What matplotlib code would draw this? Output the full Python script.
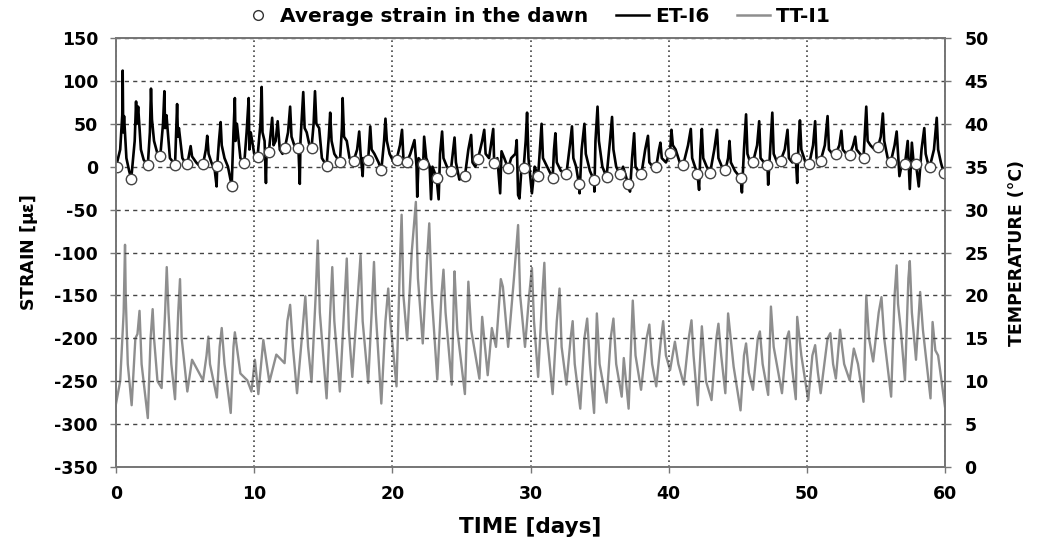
import matplotlib
matplotlib.use("Agg")
import matplotlib.pyplot as plt
from matplotlib.lines import Line2D

plt.rcParams['font.family'] = ['DejaVu Sans']
plt.rcParams['font.weight'] = 'bold'
plt.rcParams['axes.unicode_minus'] = False

# average strain at dawn (markers)
dawn_days = [0.05, 1.1, 2.3, 3.2, 4.27, 5.16, 6.3, 7.3, 8.37, 9.28,
             10.24, 11.06, 12.22, 13.2, 14.15, 15.24, 16.2, 17.2, 18.25, 19.2,
             20.3, 21.07, 22.23, 23.2, 24.23, 25.25, 26.2, 27.37, 28.38, 29.5,
             30.55, 31.6, 32.6, 33.5, 34.6, 35.5, 36.46, 37.06, 38.03, 39.1,
             40.1, 41.05, 42.08, 43.0, 44.1, 45.2, 46.1, 47.15, 48.1, 49.2,
             50.17, 51.0, 52.1, 53.1, 54.1, 55.15, 56.07, 57.1, 57.9, 58.9, 59.9]
dawn_strain = [0, -14, 2, 12, 2, 3, 3, 1, -22, 4,
               11, 17, 22, 22, 22, 1, 5, 7, 8, -4,
               8, 6, 3, -13, -5, -11, 9, 4, -2, -2,
               -11, -13, -8, -20, -16, -12, -9, -20, -8, 0,
               16, 2, -8, -7, -4, -13, 5, 2, 7, 10,
               3, 7, 15, 14, 10, 23, 5, 3, 3, 0, -7]

# ET-I6 strain (peaks, shoulders and dips)
et_days = [0.0, 0.3, 0.45, 0.48, 0.52, 0.58, 0.75, 0.95, 1.1, 1.35, 1.45, 1.5, 1.6, 1.8, 2.0,
           2.3, 2.45, 2.53, 2.6, 2.75, 3.0, 3.2, 3.4, 3.5, 3.55, 3.65, 3.9, 4.15,
           4.27, 4.35, 4.42, 4.48, 4.55, 4.8, 5.0, 5.16, 5.3, 5.4, 5.5, 5.8, 6.1,
           6.3, 6.5, 6.6, 6.7, 6.9, 7.15, 7.28, 7.32, 7.45, 7.57, 7.65, 7.85, 8.1,
           8.37, 8.5, 8.6, 8.65, 8.75, 9.0, 9.28, 9.45, 9.6, 9.65, 9.75, 10.0,
           10.24, 10.45, 10.54, 10.6, 10.75, 10.85, 10.9, 11.06, 11.2, 11.3, 11.4, 11.55, 11.7, 11.85, 12.05,
           12.22, 12.45, 12.6, 12.7, 12.9, 13.2, 13.3, 13.35, 13.55, 13.65, 13.8, 14.0,
           14.15, 14.3, 14.4, 14.5, 14.7, 14.9, 15.24, 15.4, 15.5, 15.6, 15.8,
           16.2, 16.35, 16.4, 16.5, 16.7, 16.9, 17.2, 17.45, 17.6, 17.7, 17.85, 17.9,
           18.25, 18.35, 18.4, 18.5, 18.7, 19.0, 19.2, 19.4, 19.5, 19.6, 19.8, 20.1,
           20.3, 20.55, 20.7, 20.8, 20.95, 21.07, 21.3, 21.6, 21.75, 21.8, 21.9,
           22.23, 22.3, 22.45, 22.7, 22.8, 22.9, 23.2, 23.35, 23.45, 23.6, 23.7, 23.95,
           24.23, 24.4, 24.5, 24.6, 24.85, 25.25, 25.5, 25.7, 25.8, 26.0,
           26.2, 26.5, 26.65, 26.75, 27.0, 27.3, 27.37, 27.6, 27.8, 27.9, 28.1,
           28.38, 28.6, 28.9, 29.0, 29.1, 29.2, 29.35, 29.5, 29.65, 29.75, 29.85, 30.1, 30.3,
           30.55, 30.7, 30.8, 30.9, 31.2, 31.6, 31.7, 31.8, 31.9, 32.2,
           32.6, 32.85, 33.0, 33.1, 33.3, 33.5, 33.55, 33.7, 33.9, 34.0, 34.3,
           34.6, 34.62, 34.7, 34.85, 34.95, 35.2, 35.5, 35.75, 35.9, 36.0, 36.2,
           36.46, 36.7, 37.06, 37.2, 37.35, 37.5, 37.6, 37.8, 38.03, 38.3, 38.5, 38.6, 38.85,
           39.1, 39.3, 39.4, 39.5, 39.8, 40.1, 40.2, 40.3, 40.5, 40.8,
           41.05, 41.4, 41.6, 41.7, 41.9, 42.08, 42.2, 42.3, 42.4, 42.5, 42.75,
           43.0, 43.3, 43.5, 43.6, 43.85, 44.1, 44.3, 44.4, 44.5, 44.8,
           45.2, 45.3, 45.45, 45.6, 45.7, 45.9, 46.1, 46.4, 46.55, 46.65, 46.9,
           47.15, 47.2, 47.35, 47.5, 47.6, 47.85, 48.1, 48.4, 48.6, 48.7, 48.95,
           49.2, 49.3, 49.4, 49.5, 49.6, 49.9, 50.17, 50.45, 50.6, 50.7, 50.85,
           51.0, 51.3, 51.5, 51.6, 51.85, 52.1, 52.35, 52.5, 52.6, 52.85,
           53.1, 53.35, 53.5, 53.6, 53.85, 54.1, 54.2, 54.3, 54.4, 54.6, 54.9,
           55.15, 55.35, 55.5, 55.6, 55.85, 56.07, 56.35, 56.5, 56.6, 56.7, 56.9,
           57.1, 57.3, 57.45, 57.6, 57.75, 57.9, 58.1, 58.3, 58.5, 58.6, 58.75,
           58.9, 59.2, 59.4, 59.5, 59.7, 59.9]
et_strain = [0, 20, 60, 112, 40, 59, 10, -5, -14, 30, 76, 50, 70, 20, 8,
             2, 40, 91, 55, 30, 15, 12, 50, 88, 45, 60, 10, 5,
             2, 40, 73, 35, 45, 10, 5, 3, 15, 24, 12, 5, 0,
             3, 20, 36, 15, 5, -5, -23, 1, 30, 52, 25, 10, 0,
             -22, 40, 80, 30, 50, 10, 4, 40, 80, 20, 40, 15,
             11, 50, 93, 40, 30, -19, 20, 17, 40, 57, 25, 30, 53, 20, 15,
             22, 40, 70, 35, 25, 22, -20, 30, 87, 45, 40, 25,
             22, 50, 88, 50, 45, 10, 1, 35, 63, 30, 15,
             5, 45, 80, 35, 30, 10, 7, 20, 41, 15, -11, 10,
             8, 35, 47, 20, 15, 5, -4, 30, 56, 30, 15, 5,
             8, 25, 43, 10, 0, 6, 15, 31, 0, -35, 10,
             3, 35, 10, 0, -38, 0, -13, -38, 15, 41, 10, 0,
             -5, 20, 34, 5, -15, -11, 20, 37, 5, 0,
             9, 30, 43, 15, 10, 44, 4, 10, -31, 18, 10,
             -2, 10, 15, 31, -33, -37, 0, -2, 30, 63, 10, -31, 0,
             -11, 25, 50, 10, 0, -13, 20, 39, 5, -5,
             -8, 25, 47, 10, 0, -20, -31, 20, 50, 15, -5,
             -16, -29, 30, 70, 30, 0, -12, 30, 58, 20, 0,
             -9, 0, -20, -29, 10, 39, 0, -5, -8, 20, 36, 5, 0,
             0, 20, 28, 10, 5, 16, 43, 25, 20, 5,
             2, 25, 44, 10, 0, -8, -27, 20, 44, 10, 0,
             -7, 20, 43, 10, 0, -4, 10, 30, 5, -5,
             -13, -30, 20, 61, 15, 5, 5, 25, 53, 10, 5,
             2, -21, 20, 63, 15, 5, 7, 20, 43, 10, 5,
             10, -19, 30, 54, 20, 5, 3, 25, 53, 10, 5,
             7, 25, 59, 20, 15, 15, 25, 42, 20, 15,
             14, 25, 35, 20, 15, 10, 40, 70, 30, 25, 20,
             23, 35, 62, 30, 10, 5, 25, 41, 15, -11, 5,
             3, 30, -26, 28, 0, 3, -23, 20, 45, 15, 5,
             0, 20, 57, 20, 5, -7]

# TT-I1 temperature (daily maxima / minima)
tt_days = [0.0, 0.3, 0.55, 0.65, 0.7, 0.85, 1.13, 1.4, 1.55, 1.7, 1.85, 2.3, 2.5, 2.65, 2.75,
           3.0, 3.3, 3.55, 3.67, 3.8, 4.0, 4.27, 4.5, 4.63, 4.75, 5.16, 5.5, 6.3, 6.55, 6.68, 6.8,
           7.3, 7.5, 7.65, 7.85, 8.3, 8.5, 8.6, 9.0, 9.5, 9.8, 10.05, 10.3, 10.66, 11.1, 11.6,
           12.2, 12.4, 12.6, 12.8, 13.1, 13.5, 13.7, 13.9, 14.15, 14.45, 14.6, 14.75,
           15.24, 15.5, 15.65, 15.8, 16.2, 16.5, 16.7, 16.85, 17.1, 17.5, 17.7, 17.85,
           18.25, 18.5, 18.67, 18.8, 19.2, 19.5, 19.7, 19.85, 20.3, 20.55, 20.67, 20.8,
           21.07, 21.4, 21.7, 21.85, 22.2, 22.5, 22.67, 22.85, 23.25, 23.55, 23.7, 23.85,
           24.3, 24.45, 24.5, 24.7, 25.25, 25.45, 25.5, 25.7, 26.3, 26.5, 26.9, 27.2, 27.5,
           27.85, 28.0, 28.38, 28.8, 29.1, 29.25, 29.6, 29.9, 30.1, 30.25, 30.55, 30.85, 31.0, 31.15,
           31.6, 31.9, 32.1, 32.25, 32.6, 32.9, 33.05, 33.2, 33.6, 33.9, 34.1, 34.3,
           34.6, 34.8, 35.0, 35.5, 35.8, 36.0, 36.2, 36.6, 36.75, 37.1, 37.3, 37.4, 37.6,
           38.0, 38.4, 38.6, 38.8, 39.1, 39.45, 39.6, 39.8, 40.1, 40.45, 40.7,
           41.1, 41.45, 41.65, 41.8, 42.1, 42.4, 42.7, 43.1, 43.45, 43.6, 43.8,
           44.1, 44.3, 44.7, 45.2, 45.45, 45.6, 45.8, 46.1, 46.45, 46.6, 46.8,
           47.2, 47.4, 47.6, 48.2, 48.55, 48.7, 48.9, 49.2, 49.3, 49.6,
           50.1, 50.4, 50.6, 50.8, 51.0, 51.5, 51.7, 51.9, 52.1, 52.4, 52.7,
           53.1, 53.4, 53.7, 54.1, 54.3, 54.5, 54.8, 55.2, 55.4, 55.6,
           56.1, 56.35, 56.5, 56.6, 56.8, 57.1, 57.35, 57.45, 57.6, 57.9, 58.2, 58.4,
           58.95, 59.1, 59.3, 59.5, 60.0]
tt_temp = [7.4, 10, 18, 25.9, 20, 12, 7.2, 15, 15.5, 18.2, 12, 5.7, 15, 18.4, 15,
           10, 9.2, 18, 23.3, 18, 12, 7.9, 18, 21.9, 15, 8.8, 12.5, 10.1, 13, 15.2, 12,
           8.1, 14, 16.2, 12, 6.3, 14, 15.7, 10.9, 10.1, 8.8, 12.5, 8.5, 14.8, 9.9, 13.1,
           12.1, 17, 18.9, 14, 8.6, 16, 19.9, 14, 9.9, 20, 26.4, 18,
           8.0, 18, 23.3, 17, 8.8, 18, 24.3, 16, 10.5, 20, 24.7, 17,
           9.8, 18, 23.9, 18, 7.4, 17, 20.8, 17, 9.4, 24, 29.4, 20,
           14.8, 25, 30.9, 22, 14.4, 24, 28.4, 20, 10.2, 20, 23.0, 18,
           9.6, 20, 22.8, 16, 8.5, 19, 21.6, 16, 10.3, 17.5, 10.7, 16.2, 14,
           21.9, 21, 14.0, 22, 28.2, 20, 14.0, 20, 23.2, 17, 10.5, 20, 23.8, 16,
           8.5, 17, 20.8, 14, 9.6, 15, 17.0, 12, 6.8, 15, 17.3, 12,
           6.3, 17.9, 12, 7.5, 15, 17.3, 12, 8.2, 12.7, 6.8, 15, 19.4, 13,
           9.0, 15, 16.6, 12, 9.4, 15, 17.0, 13, 11.3, 14.6, 12,
           9.6, 15, 17.1, 13, 7.2, 16.4, 10, 7.8, 15, 16.7, 13,
           8.6, 17.9, 11.7, 6.6, 13, 14.4, 11, 9.0, 15, 15.8, 12,
           8.4, 18.7, 14, 8.6, 15, 15.8, 12, 7.9, 17.5, 13,
           7.8, 13, 14.2, 11, 8.6, 15, 15.6, 12, 10.3, 16.0, 12,
           10.1, 13.8, 12, 7.6, 20.0, 15, 12.3, 18, 19.8, 15,
           8.2, 20, 23.5, 19, 16, 10.1, 22, 24.0, 18, 12.5, 20.4, 16,
           8.0, 16.9, 13.6, 13, 7.0]

fig = plt.figure(figsize=(10.37, 5.5), dpi=100)
ax = fig.add_axes([0.1119, 0.1509, 0.7994, 0.78])
ax2 = ax.twinx()
ax.set_zorder(ax2.get_zorder() + 1)
ax.patch.set_visible(False)

ax2.plot(tt_days, tt_temp, color='#8e8e8e', lw=1.7)
ax.plot(et_days, et_strain, color='black', lw=1.9)
ax.plot(dawn_days, dawn_strain, ls='none', marker='o', ms=7.5,
        mfc='white', mec='#444444', mew=1.0)

ax.set_xlim(0, 60)
ax.set_ylim(-350, 150)
ax2.set_ylim(0, 50)
ax.set_xticks(range(0, 61, 10))
ax.set_yticks(range(-350, 151, 50))
ax2.set_yticks(range(0, 51, 5))

ax.yaxis.grid(True, ls=(0, (3, 3)), color='#444444', lw=1.0)
ax.xaxis.grid(True, ls=(0, (1, 2)), color='#444444', lw=1.2)

for a in (ax, ax2):
    for s in a.spines.values():
        s.set_color('#777777')
        s.set_linewidth(1.3)
    a.tick_params(labelsize=12.5, length=4, color='#777777', width=1.0)
ax.tick_params(axis='x', pad=9)
ax.tick_params(axis='y', pad=9)
ax2.tick_params(axis='y', pad=10)

ax.set_xlabel('TIME [days]', fontsize=15.5, fontweight='bold', labelpad=10)
ax.set_ylabel('STRAIN [$\\mathbf{\\mu\\varepsilon}$]', fontsize=12.5, fontweight='bold', labelpad=10)
ax2.set_ylabel('TEMPERATURE (°C)', fontsize=12.5, fontweight='bold', labelpad=14)

handles = [Line2D([], [], ls='none', marker='o', ms=7, mfc='white', mec='#333333'),
           Line2D([], [], color='black', lw=1.8),
           Line2D([], [], color='#8e8e8e', lw=1.8)]
labels = ['Average strain in the dawn', 'ET-I6', 'TT-I1']
fig.legend(handles, labels, loc='upper center', bbox_to_anchor=(0.517, 1.02), ncol=3,
           frameon=False, fontsize=14.5, handlelength=1.6, handletextpad=0.3, columnspacing=1.4)

fig.savefig('out.png', dpi=100)
